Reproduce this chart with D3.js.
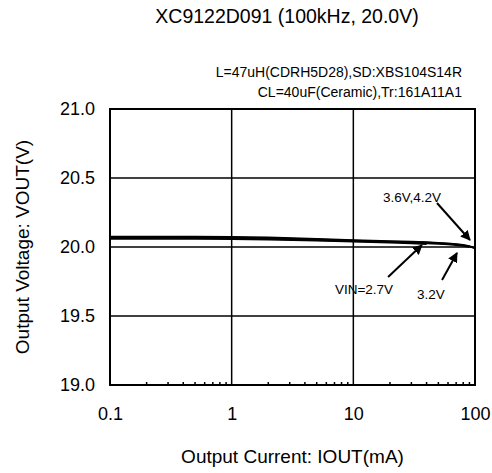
<!DOCTYPE html>
<html>
<head>
<meta charset="utf-8">
<script src="https://cdn.jsdelivr.net/npm/d3@7/dist/d3.min.js"></script>
<style>
  body { margin: 0; background: #fff; }
  svg text { font-family: "Liberation Sans", Arial, sans-serif; fill: #000; }
</style>
</head>
<body>
<svg id="chart" width="492" height="473"></svg>
<script>
// ---- data ----
const titleText = "XC9122D091 (100kHz, 20.0V)";
const noteLines = ["L=47uH(CDRH5D28),SD:XBS104S14R", "CL=40uF(Ceramic),Tr:161A11A1"];
const xLabel = "Output Current: IOUT(mA)";
const yLabel = "Output Voltage: VOUT(V)";
const xTicks = [0.1, 1, 10, 100];
const xTickLabels = ["0.1", "1", "10", "100"];
const yTicks = [19.0, 19.5, 20.0, 20.5, 21.0];
const yTickLabels = ["19.0", "19.5", "20.0", "20.5", "21.0"];

const iout = [0.1, 0.2, 0.5, 1, 2, 5, 10, 20, 30, 40, 50, 60, 70, 80, 90, 100];
const vin42 = [20.076, 20.076, 20.075, 20.074, 20.070, 20.060, 20.050, 20.043, 20.039, 20.035, 20.031, 20.027, 20.022, 20.016, 20.007, 19.992];
const vin36 = [20.071, 20.071, 20.070, 20.069, 20.065, 20.055, 20.046, 20.040, 20.036, 20.032, 20.028, 20.024, 20.019, 20.013, 20.004, 19.990];
const vin32 = [20.065, 20.065, 20.064, 20.063, 20.059, 20.050, 20.042, 20.036, 20.031, 20.026, 20.022, 20.018, 20.013, 20.007, 19.999];
const vin27 = [20.059, 20.059, 20.058, 20.057, 20.053, 20.045, 20.038, 20.032, 20.026, 20.020];
const seriesList = [vin42, vin36, vin32, vin27];

// annotations in data coordinates: label anchor and arrow (from -> to)
const annLabels = ["3.6V,4.2V", "VIN=2.7V", "3.2V"];
const annTextPos = [[17.5, 20.326], [7.06, 19.659], [33.3, 19.623]];
const annArrowFrom = [[48.7, 20.319], [19.3, 19.783], [53.6, 19.761]];
const annArrowTo = [[90.9, 20.051], [36.6, 20.014], [71.1, 19.957]];

// ---- layout ----
const svg = d3.select("#chart");
const L = 110, R = 475, T = 109, B = 385;

const x = d3.scaleLog().domain([0.1, 100]).range([L, R]);
const y = d3.scaleLinear().domain([19, 21]).range([B, T]);

// title
svg.append("text").attr("x", 287).attr("y", 23).attr("text-anchor", "middle")
  .attr("font-size", 19.5).text(titleText);

// notes
noteLines.forEach((t, i) => {
  svg.append("text").attr("x", 462).attr("y", 77 + i * 20).attr("text-anchor", "end")
    .attr("font-size", 14).text(t);
});

// gridlines
const g = svg.append("g");
g.selectAll("line.vg").data(xTicks.slice(1, -1)).join("line")
  .attr("x1", d => x(d)).attr("x2", d => x(d)).attr("y1", T).attr("y2", B)
  .attr("stroke", "#000").attr("stroke-width", 1.5);
g.selectAll("line.hg").data(yTicks.slice(1, -1)).join("line")
  .attr("x1", L).attr("x2", R).attr("y1", d => y(d)).attr("y2", d => y(d))
  .attr("stroke", "#000").attr("stroke-width", 1.5);

// minor ticks on bottom
const minor = [];
[0.1, 1, 10].forEach(dec => { for (let k = 2; k <= 9; k++) minor.push(dec * k); });
g.selectAll("line.mt").data(minor).join("line")
  .attr("x1", d => x(d)).attr("x2", d => x(d)).attr("y1", B).attr("y2", B - 3)
  .attr("stroke", "#000").attr("stroke-width", 1.5);

// frame
svg.append("rect").attr("x", L).attr("y", T).attr("width", R - L).attr("height", B - T)
  .attr("fill", "none").attr("stroke", "#000").attr("stroke-width", 2);

// axes tick labels using d3 axes
const xAxis = d3.axisBottom(x).tickValues(xTicks).tickFormat((d, i) => xTickLabels[i]).tickSize(0).tickPadding(22);
const xg = svg.append("g").attr("transform", `translate(0,${B})`).call(xAxis);
xg.select(".domain").remove();
xg.selectAll("text").attr("font-size", 18).attr("font-family", "Liberation Sans, Arial, sans-serif").attr("fill", "#000");

const yAxis = d3.axisLeft(y).tickValues(yTicks).tickFormat((d, i) => yTickLabels[i]).tickSize(0).tickPadding(15);
const yg = svg.append("g").attr("transform", `translate(${L},0)`).call(yAxis);
yg.select(".domain").remove();
yg.selectAll("text").attr("font-size", 18).attr("font-family", "Liberation Sans, Arial, sans-serif").attr("fill", "#000");

// axis labels
svg.append("text").attr("x", (L + R) / 2).attr("y", 463).attr("text-anchor", "middle")
  .attr("font-size", 19).text(xLabel);
svg.append("text").attr("transform", `translate(29,${(T + B) / 2}) rotate(-90)`)
  .attr("text-anchor", "middle").attr("font-size", 19).text(yLabel);

// curves
const line = d3.line().x((d, i) => x(iout[i])).y(d => y(d));
svg.append("g").selectAll("path").data(seriesList).join("path")
  .attr("d", d => line(d)).attr("fill", "none").attr("stroke", "#000").attr("stroke-width", 1.6);

// arrows
svg.append("defs").append("marker").attr("id", "ah").attr("viewBox", "0 0 10 10")
  .attr("refX", 9).attr("refY", 5).attr("markerWidth", 5).attr("markerHeight", 5)
  .attr("orient", "auto").append("path").attr("d", "M0,0L10,5L0,10z").attr("fill", "#000");
annLabels.forEach((t, i) => {
  svg.append("line")
    .attr("x1", x(annArrowFrom[i][0])).attr("y1", y(annArrowFrom[i][1]))
    .attr("x2", x(annArrowTo[i][0])).attr("y2", y(annArrowTo[i][1]))
    .attr("stroke", "#000").attr("stroke-width", 2).attr("marker-end", "url(#ah)");
  svg.append("text").attr("x", x(annTextPos[i][0])).attr("y", y(annTextPos[i][1]))
    .attr("font-size", 13.5).text(t);
});
</script>
</body>
</html>
